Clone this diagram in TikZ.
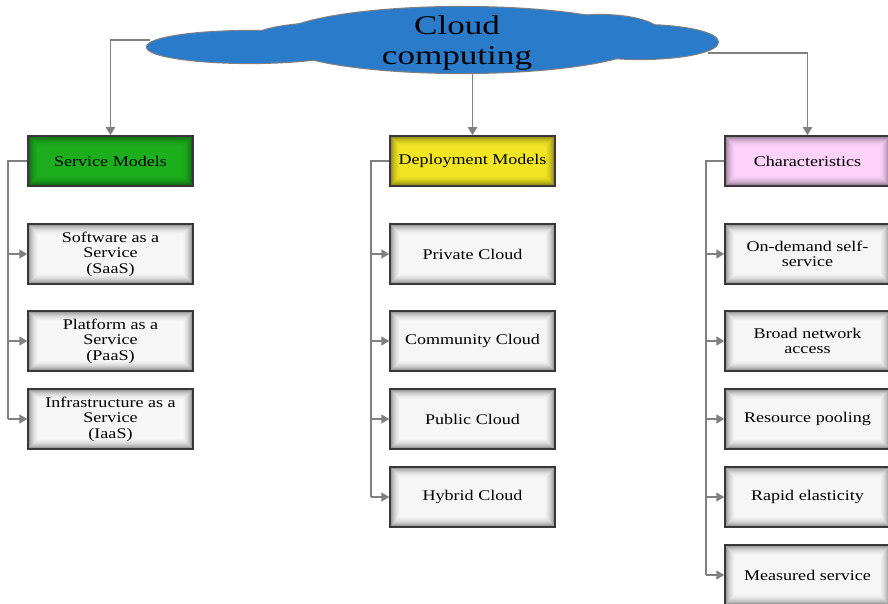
\documentclass[tikz,border=0pt]{standalone}
\usepackage{fontspec}
\setmainfont{Liberation Serif}[FakeStretch=1.22]
\newfontfamily\cloudfont{Liberation Serif}[FakeStretch=1.3]
\usetikzlibrary{arrows.meta}
\definecolor{linegray}{HTML}{808080}
\definecolor{cloudblue}{HTML}{2A7CCB}
\definecolor{boxgray}{HTML}{F6F6F6}
\definecolor{edgegray}{HTML}{383838}
\definecolor{smgreen}{HTML}{1DAE1D}
\definecolor{dmyellow}{HTML}{F2E624}
\definecolor{chpink}{HTML}{FCD2FA}
\tikzset{
  inshadow/.style={path picture={
    \foreach \k/\o in {1/0.22,2/0.17,3/0.13,4/0.10,5/0.07,6/0.05,7/0.035,8/0.02,9/0.01}{
      \draw[black,opacity=\o,line width=1.05pt]
        ([shift={(\k pt,\k pt)}]path picture bounding box.south west) rectangle
        ([shift={(-\k pt,-\k pt)}]path picture bounding box.north east);}}},
  box/.style={draw=edgegray,line width=1.5pt,fill=boxgray,inshadow,
    minimum width=165pt,minimum height=60pt,align=center,
    font=\fontsize{14.8}{15.5}\selectfont,inner sep=2pt},
  headbox/.style={box,minimum height=50pt},
  conn/.style={draw=linegray,line width=1.7pt,-{Triangle[length=8pt,width=9pt]}},
  link/.style={draw=linegray,line width=1.7pt},
  lobe/.style={draw=linegray,line width=2.2pt}
}
\begin{document}
\begin{tikzpicture}[x=1pt,y=-1pt]
\useasboundingbox (0,0) rectangle (888,604);
\fill[white] (0,0) rectangle (888,604);

% cloud: outline of all lobes first, then the fill hides the inner edges
\foreach \cx/\cy/\rx/\ry in {250/47/103/16, 330/40/80/17, 462/40/185/33, 600/33/60/18, 640/42/78/17}
  \draw[lobe] (\cx,\cy) ellipse [x radius=\rx, y radius=\ry];
\foreach \cx/\cy/\rx/\ry in {250/47/103/16, 330/40/80/17, 462/40/185/33, 600/33/60/18, 640/42/78/17}
  \fill[cloudblue] (\cx,\cy) ellipse [x radius=\rx, y radius=\ry];
\node[align=center,font=\cloudfont\fontsize{27}{30}\selectfont,inner sep=0pt] (cloud) at (457,43) {Cloud\\computing};
\coordinate (cloudL) at (150,40);
\coordinate (cloudB) at (472.5,72);
\coordinate (cloudR) at (708,53);

% category headers
\node[headbox,fill=smgreen] (sm) at (110.5,161) {Service Models};
\node[headbox,fill=dmyellow] (dm) at (472.5,161) {Deployment Models};
\node[headbox,fill=chpink] (ch) at (807.5,161) {Characteristics};

% service models
\node[box] (saas) at (110.5,254) {Software as a\\Service\\(SaaS)};
\node[box] (paas) at (110.5,341) {Platform as a\\Service\\(PaaS)};
\node[box] (iaas) at (110.5,419) {Infrastructure as a\\Service\\(IaaS)};

% deployment models
\node[box] (priv) at (472.5,254) {Private Cloud};
\node[box] (comm) at (472.5,341) {Community Cloud};
\node[box] (publ) at (472.5,419) {Public Cloud};
\node[box] (hybr) at (472.5,497) {Hybrid Cloud};

% characteristics
\node[box] (odss) at (807.5,254) {On-demand self-\\service};
\node[box] (bna) at (807.5,341) {Broad network\\access};
\node[box] (rp) at (807.5,419) {Resource pooling};
\node[box] (re) at (807.5,497) {Rapid elasticity};
\node[box] (ms) at (807.5,575) {Measured service};

% cloud to headers
\draw[conn] (cloudL) -| (sm.north);
\draw[conn] (cloudB) -- (dm.north);
\draw[conn] (cloudR) -| (ch.north);

% spines
\coordinate (spA) at (8,161);
\coordinate (spB) at (371,161);
\coordinate (spC) at (706,161);
\draw[link] (sm.west) -- (spA) -- (spA |- iaas.west);
\draw[link] (dm.west) -- (spB) -- (spB |- hybr.west);
\draw[link] (ch.west) -- (spC) -- (spC |- ms.west);
\foreach \n in {saas,paas,iaas} \draw[conn] (spA |- \n.west) -- (\n.west);
\foreach \n in {priv,comm,publ,hybr} \draw[conn] (spB |- \n.west) -- (\n.west);
\foreach \n in {odss,bna,rp,re,ms} \draw[conn] (spC |- \n.west) -- (\n.west);
\end{tikzpicture}
\end{document}
